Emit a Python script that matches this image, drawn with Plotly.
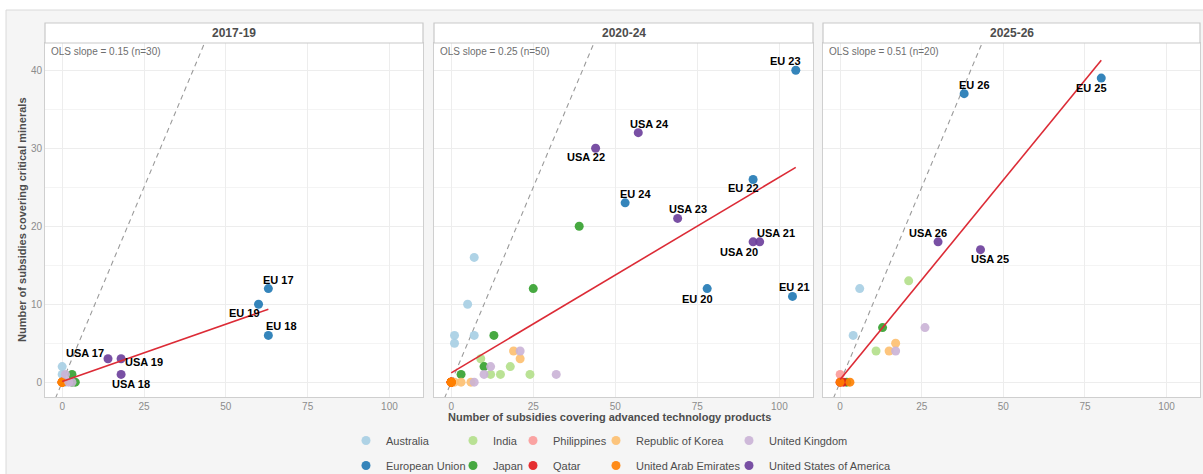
import numpy as np
import plotly.graph_objects as go

W, H = 1203, 474

periods = ["2017-19", "2020-24", "2025-26"]
countries = ["Australia", "European Union", "India", "Japan", "Philippines", "Qatar",
             "Republic of Korea", "United Arab Emirates", "United Kingdom",
             "United States of America"]

# ---- data: advanced technology products (x) vs critical minerals (y) ----
x_1719 = {
    "Australia": [0, 0, 1], "European Union": [63, 63, 60], "India": [0, 0, 0],
    "Japan": [3, 3, 4], "Philippines": [0, 0, 0], "Qatar": [0, 0, 0],
    "Republic of Korea": [0, 0, 0], "United Arab Emirates": [0, 0, 0],
    "United Kingdom": [1, 3, 2], "United States of America": [14, 18, 18],
}
y_1719 = {
    "Australia": [2, 1, 0], "European Union": [12, 6, 10], "India": [0, 0, 0],
    "Japan": [1, 0, 0], "Philippines": [0, 0, 0], "Qatar": [0, 0, 0],
    "Republic of Korea": [0, 0, 0], "United Arab Emirates": [0, 0, 0],
    "United Kingdom": [1, 0, 0], "United States of America": [3, 1, 3],
}
x_2024 = {
    "Australia": [1, 1, 7, 5, 7], "European Union": [78, 104, 92, 105, 53],
    "India": [9, 18, 12, 15, 24], "Japan": [3, 10, 13, 25, 39],
    "Philippines": [0, 0, 0, 0, 0], "Qatar": [0, 0, 0, 0, 0],
    "Republic of Korea": [19, 21, 6, 1, 3], "United Arab Emirates": [0, 0, 0, 0, 0],
    "United Kingdom": [21, 12, 10, 32, 7], "United States of America": [92, 94, 44, 69, 57],
}
y_2024 = {
    "Australia": [6, 5, 16, 10, 6], "European Union": [12, 11, 26, 40, 23],
    "India": [3, 2, 1, 1, 1], "Japan": [1, 2, 6, 12, 20],
    "Philippines": [0, 0, 0, 0, 0], "Qatar": [0, 0, 0, 0, 0],
    "Republic of Korea": [4, 3, 0, 0, 0], "United Arab Emirates": [0, 0, 0, 0, 0],
    "United Kingdom": [4, 2, 1, 1, 0], "United States of America": [18, 18, 30, 21, 32],
}
x_2526 = {
    "Australia": [6, 4], "European Union": [80, 38], "India": [21, 11],
    "Japan": [13, 2], "Philippines": [0, 0], "Qatar": [1, 0],
    "Republic of Korea": [17, 15], "United Arab Emirates": [0, 3],
    "United Kingdom": [26, 17], "United States of America": [43, 30],
}
y_2526 = {
    "Australia": [12, 6], "European Union": [39, 37], "India": [13, 4],
    "Japan": [7, 0], "Philippines": [1, 0], "Qatar": [0, 0],
    "Republic of Korea": [5, 4], "United Arab Emirates": [0, 0],
    "United Kingdom": [7, 4], "United States of America": [17, 18],
}
labels_1719 = {"European Union": ["EU 17", "EU 18", "EU 19"],
               "United States of America": ["USA 17", "USA 18", "USA 19"]}
labels_2024 = {"European Union": ["EU 20", "EU 21", "EU 22", "EU 23", "EU 24"],
               "United States of America": ["USA 20", "USA 21", "USA 22", "USA 23", "USA 24"]}
labels_2526 = {"European Union": ["EU 25", "EU 26"],
               "United States of America": ["USA 25", "USA 26"]}

x_ticks = [0, 25, 50, 75, 100]
y_ticks = [0, 10, 20, 30, 40]
y_minor = [5, 15, 25, 35]

# ---- styles ----
colors = {
    "Australia": "#a6cee3", "European Union": "#1f78b4", "India": "#b2df8a",
    "Japan": "#33a02c", "Philippines": "#fb9a99", "Qatar": "#e31a1c",
    "Republic of Korea": "#fdbf6f", "United Arab Emirates": "#ff7f00",
    "United Kingdom": "#cab2d6", "United States of America": "#6a3d9a",
}
label_offsets = {
    "EU 17": (10, 9), "EU 19": (-14, -9), "EU 18": (13, 9),
    "USA 17": (-23, 6), "USA 19": (23, -3), "USA 18": (10, -10),
    "EU 23": (-10, 9), "USA 24": (11, 9), "USA 22": (-10, -9), "EU 22": (-10, -9),
    "EU 24": (10, 9), "USA 23": (10, 9), "USA 21": (16, 9), "USA 20": (-14, -10),
    "EU 20": (-10, -10), "EU 21": (2, 9),
    "EU 25": (-10, -10), "EU 26": (10, 9), "USA 26": (-10, 9), "USA 25": (10, -9),
}
legend_cols = [["Australia", "European Union"], ["India", "Japan"],
               ["Philippines", "Qatar"], ["Republic of Korea", "United Arab Emirates"],
               ["United Kingdom", "United States of America"]]
legend_sym_px = [369, 476, 536, 619, 752]

FONT = "Liberation Sans, Arial, Helvetica, sans-serif"
x_range = [-5.25, 110.25]
y_range = [-1.9, 43.5]
panel_px = [(45, 423), (434, 813), (823, 1200)]
plot_top, plot_bottom, strip_top = 43, 397, 23

panel_x = [x_1719, x_2024, x_2526]
panel_y = [y_1719, y_2024, y_2526]
panel_labels = [labels_1719, labels_2024, labels_2526]

legend_of = {}
for k, col in enumerate(legend_cols):
    for c in col:
        legend_of[c] = "legend" if k == 0 else f"legend{k + 1}"

fig = go.Figure()
annotations = []
shapes = [dict(type="rect", xref="paper", yref="paper", x0=6 / W, x1=1.01,
               y0=-0.02, y1=1 - 10 / H, fillcolor="#f5f5f5",
               line=dict(color="#dadada", width=1), layer="below")]

for i, period in enumerate(periods):
    xa = "x" if i == 0 else f"x{i + 1}"
    ya = "y" if i == 0 else f"y{i + 1}"
    xs, ys = panel_x[i], panel_y[i]

    # y = x reference line
    fig.add_trace(go.Scatter(x=x_range, y=x_range, mode="lines", xaxis=xa, yaxis=ya,
                             line=dict(color="#9a9a9a", width=1.1, dash="5px,4px"),
                             showlegend=False, hoverinfo="skip"))
    # points
    for c in countries:
        fig.add_trace(go.Scatter(
            x=xs[c], y=ys[c], mode="markers", xaxis=xa, yaxis=ya, name=c,
            legendgroup=c, legend=legend_of[c], showlegend=(i == 0),
            marker=dict(size=9, color=colors[c], opacity=0.9, line=dict(width=0))))
    # OLS fit
    allx = np.concatenate([np.asarray(xs[c], float) for c in countries])
    ally = np.concatenate([np.asarray(ys[c], float) for c in countries])
    slope, intercept = np.polyfit(allx, ally, 1)
    fx = np.array([allx.min(), allx.max()])
    fig.add_trace(go.Scatter(x=fx, y=intercept + slope * fx, mode="lines",
                             xaxis=xa, yaxis=ya, line=dict(color="#dc2b36", width=1.6),
                             showlegend=False, hoverinfo="skip"))

    annotations.append(dict(xref=f"{xa} domain", yref=f"{ya} domain", x=0, y=1,
                            xanchor="left", yanchor="top", xshift=4, yshift=-1,
                            text=f"OLS slope = {slope:.2f} (n={len(allx)})",
                            showarrow=False, font=dict(family=FONT, size=10, color="#6e6e6e")))
    # point labels
    for c, labs in panel_labels[i].items():
        for lab, px_, py_ in zip(labs, xs[c], ys[c]):
            dx, dy = label_offsets[lab]
            annotations.append(dict(xref=xa, yref=ya, x=px_, y=py_, text=f"<b>{lab}</b>",
                                    showarrow=False, xshift=dx, yshift=dy,
                                    font=dict(family=FONT, size=11, color="#000000")))
    # panel background and strip
    shapes.append(dict(type="rect", xref=f"{xa} domain", yref=f"{ya} domain",
                       x0=0, x1=1, y0=0, y1=1, fillcolor="white", line=dict(width=0),
                       layer="below"))
    shapes.append(dict(type="rect", xref=f"{xa} domain", yref="paper", x0=0, x1=1,
                       y0=1 - plot_top / H, y1=1 - strip_top / H, fillcolor="white",
                       line=dict(color="#c9c9c9", width=1.2), layer="above"))
    annotations.append(dict(xref=f"{xa} domain", yref="paper", x=0.5,
                            y=1 - (plot_top + strip_top) / 2 / H, yanchor="middle",
                            text=f"<b>{period}</b>",
                            showarrow=False, font=dict(family=FONT, size=12, color="#4d4d4d")))

    x0p, x1p = panel_px[i]
    fig.layout[("xaxis" if i == 0 else f"xaxis{i + 1}")] = dict(
        domain=[x0p / W, x1p / W], range=x_range, anchor=ya, tickvals=x_ticks,
        showgrid=True, gridcolor="#ededed", gridwidth=1, zeroline=False,
        showline=True, mirror=True, linecolor="#cfcfcf", linewidth=1, ticks="",
        automargin=False,
        tickfont=dict(family=FONT, size=10, color="#8c8c8c"), fixedrange=True)
    fig.layout[("yaxis" if i == 0 else f"yaxis{i + 1}")] = dict(
        domain=[1 - plot_bottom / H, 1 - plot_top / H], range=y_range, anchor=xa,
        tickvals=y_ticks, showticklabels=(i == 0),
        showgrid=True, gridcolor="#ededed", gridwidth=1, zeroline=False,
        minor=dict(tickvals=y_minor, showgrid=True, gridcolor="#f4f4f4", gridwidth=1),
        showline=True, mirror=True, linecolor="#cfcfcf", linewidth=1, ticks="",
        automargin=False,
        tickfont=dict(family=FONT, size=10, color="#8c8c8c"), fixedrange=True)

annotations.append(dict(xref="paper", yref="paper", x=609 / W, y=1 - 417 / H,
                        yanchor="middle",
                        text="<b>Number of subsidies covering advanced technology products</b>",
                        showarrow=False, font=dict(family=FONT, size=11, color="#4d4d4d")))
annotations.append(dict(xref="paper", yref="paper", x=22 / W, y=1 - 220 / H, textangle=-90,
                        xanchor="center", yanchor="middle",
                        text="<b>Number of subsidies covering critical minerals</b>",
                        showarrow=False, font=dict(family=FONT, size=11, color="#4d4d4d")))

layout_legends = {}
for k, col in enumerate(legend_cols):
    name = "legend" if k == 0 else f"legend{k + 1}"
    layout_legends[name] = dict(
        x=(legend_sym_px[k] - 23) / W, xanchor="left", y=1 - 426 / H, yanchor="top",
        orientation="v", tracegroupgap=6, bgcolor="rgba(0,0,0,0)",
        font=dict(family=FONT, size=11, color="#4d4d4d"), itemclick=False,
        itemdoubleclick=False)

fig.update_layout(
    width=W, height=H, autosize=False,
    margin=dict(l=0, r=0, t=0, b=0, pad=0, autoexpand=False),
    paper_bgcolor="white", plot_bgcolor="white",
    font=dict(family=FONT, size=11, color="#4d4d4d"),
    shapes=shapes, annotations=annotations, showlegend=True,
    **layout_legends,
)

fig.write_html("out.html", config={"displayModeBar": False},
               post_script="document.body.style.margin='0';")
